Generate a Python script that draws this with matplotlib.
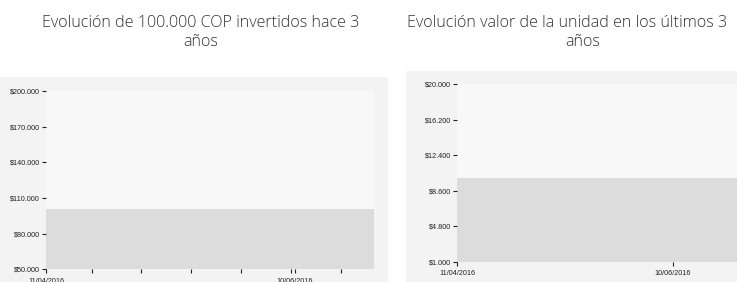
import matplotlib
matplotlib.use("Agg")
import matplotlib.pyplot as plt
import matplotlib.dates as mdates
from matplotlib.patches import Rectangle
from matplotlib.ticker import FuncFormatter, FixedLocator
import datetime as dt

# ---- data ----
dates = ["2016-04-11", "2016-06-29"]
investment_values = [100700, 100700]   # evolución de 100.000 COP
unit_values = [10020, 10020]           # valor de la unidad

left_title = ["Evolución de 100.000 COP invertidos hace 3", "años"]
right_title = ["Evolución valor de la unidad en los últimos 3", "años"]

left_yticks = [50000, 80000, 110000, 140000, 170000, 200000]
right_yticks = [1000, 4800, 8600, 12400, 16200, 20000]
major_xticks = ["2016-04-11", "2016-06-10"]
minor_xticks = ["2016-04-22", "2016-05-04", "2016-05-16", "2016-05-28",
                "2016-06-09", "2016-06-21"]

W, H = 737, 282
fig = plt.figure(figsize=(W / 100, H / 100), dpi=100)
fig.patch.set_facecolor("white")


def px_axes(x0, y0, x1, y1):
    return fig.add_axes([x0 / W, 1 - y1 / H, (x1 - x0) / W, (y1 - y0) / H])


def money(v, _):
    return "$" + f"{int(round(v)):,}".replace(",", ".")


# panel backgrounds
fig.add_artist(Rectangle((0, 0), 388 / W, 1 - 77 / H, transform=fig.transFigure,
                         facecolor="#f3f3f3", edgecolor="none", zorder=0))
fig.add_artist(Rectangle((406 / W, 0), 1 - 406 / W, 1 - 71 / H, transform=fig.transFigure,
                         facecolor="#f3f3f3", edgecolor="none", zorder=0))

d = [dt.datetime.strptime(s, "%Y-%m-%d") for s in dates]
xmaj = [mdates.date2num(dt.datetime.strptime(s, "%Y-%m-%d")) for s in major_xticks]
xmin = [mdates.date2num(dt.datetime.strptime(s, "%Y-%m-%d")) for s in minor_xticks]
xd = mdates.date2num(d)


def style(ax, yticks, with_minor):
    ax.set_facecolor("#f8f8f8")
    for s in ax.spines.values():
        s.set_visible(False)
    ax.set_yticks(yticks)
    ax.yaxis.set_major_formatter(FuncFormatter(money))
    ax.set_xticks(xmaj)
    ax.set_xticklabels([dt.datetime.strptime(s, "%Y-%m-%d").strftime("%d/%m/%Y")
                        for s in major_xticks])
    if with_minor:
        ax.xaxis.set_minor_locator(FixedLocator(xmin))
    ax.tick_params(axis="both", which="both", length=3, width=0.8, color="#222222",
                   labelcolor="#222222")
    ax.tick_params(axis="y", pad=1.5)
    ax.tick_params(axis="x", pad=3)
    for lab in ax.get_xticklabels() + ax.get_yticklabels():
        lab.set_fontfamily("Liberation Sans")
        lab.set_fontsize(5.2)


# left chart
axL = px_axes(46, 91, 374, 269.3)
axL.fill_between(xd, investment_values, left_yticks[0], color="#dcdcdc", lw=0)
axL.set_xlim(xd[0], xd[-1])
axL.set_ylim(left_yticks[0], left_yticks[-1])
style(axL, left_yticks, True)

# right chart
axR = px_axes(457, 84.3, 457 + 79 * 3.6, 262)
axR.fill_between(xd, unit_values, right_yticks[0], color="#dcdcdc", lw=0)
axR.set_xlim(xd[0], xd[-1])
axR.set_ylim(right_yticks[0], right_yticks[-1])
style(axR, right_yticks, False)

title_kw = dict(family="Open Sans", fontweight="light", fontsize=11.6, color="#333333",
                ha="center", va="center")
fig.text(201 / W, 1 - 23 / H, left_title[0], **title_kw)
fig.text(201 / W, 1 - 42 / H, left_title[1], **title_kw)
fig.text(567 / W, 1 - 23 / H, right_title[0], **title_kw)
fig.text(583 / W, 1 - 42 / H, right_title[1], **title_kw)

fig.savefig("out.png", dpi=100, facecolor="white")
